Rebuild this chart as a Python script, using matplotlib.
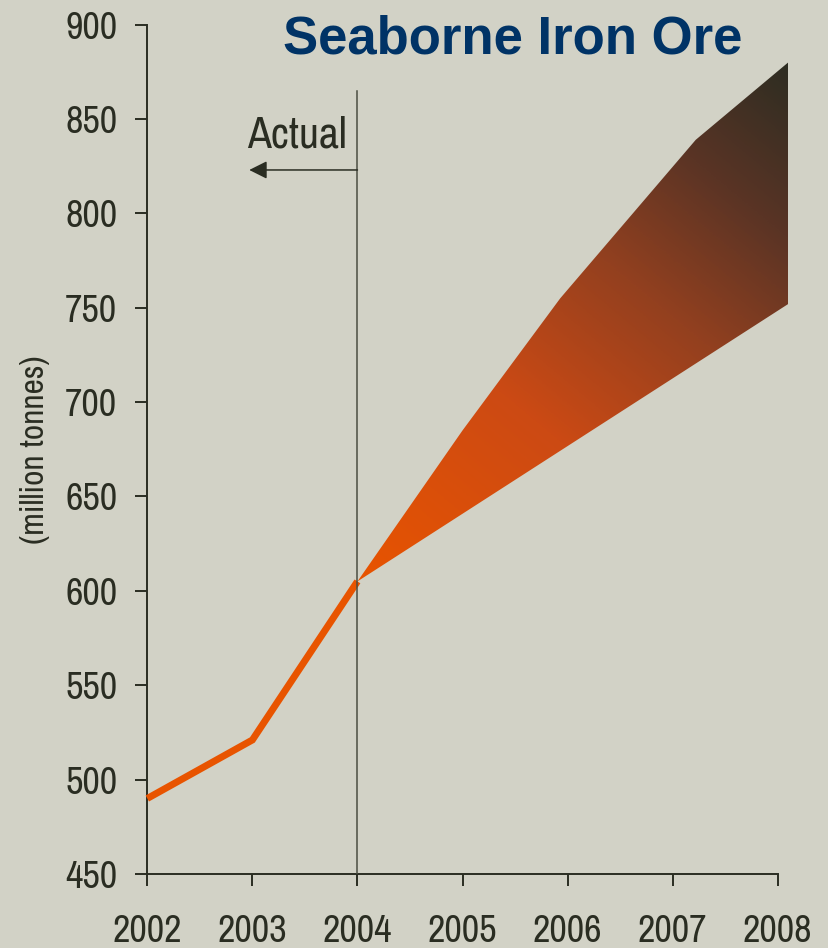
import numpy as np
import matplotlib
matplotlib.use("Agg")
import matplotlib.pyplot as plt
from matplotlib.colors import LinearSegmentedColormap
from matplotlib.patches import Polygon

# Seaborne iron ore trade, million tonnes
actual_years = [2002, 2003, 2004]
actual_values = [490, 521, 605]

# Forecast range: upper and lower bounds
high_years = [2004, 2005, 2005.93, 2007.22, 2008.1]
high_values = [605, 685, 755, 839, 880]
low_years = [2004, 2008.1]
low_values = [605, 752]

x_ticks = [2002, 2003, 2004, 2005, 2006, 2007, 2008]
y_ticks = [450, 500, 550, 600, 650, 700, 750, 800, 850, 900]

BG = "#D2D2C6"
INK = "#2A2D22"
ORANGE = "#E85400"
NAVY = "#003366"
NARROW = ["Archivo Narrow", "Roboto Condensed", "DejaVu Sans"]

plt.rcParams["font.family"] = NARROW

fig = plt.figure(figsize=(8.29, 9.48), dpi=100, facecolor=BG)
ax = fig.add_axes([0.1777, 0.0781, 0.7858, 0.8959])
ax.set_facecolor(BG)

# Forecast fan filled with a diagonal orange-to-dark gradient
fan_cmap = LinearSegmentedColormap.from_list(
    "fan", [(0.0, "#E85400"), (0.35, "#CC4A14"), (0.6, "#93401F"),
            (0.8, "#5A3425"), (1.0, "#2D2D22")])
gx = np.linspace(high_years[0], high_years[-1], 400)
gy = np.linspace(low_values[0], high_values[-1], 400)
GX, GY = np.meshgrid(gx, gy)
# scale to display-like units so the gradient runs corner to corner
sx, sy = 105.07, 1.887
dx = (gx[-1] - gx[0]) * sx
dy = (gy[-1] - gy[0]) * sy
norm = np.hypot(dx, dy)
ux, uy = dx / norm, dy / norm
T = ((GX - gx[0]) * sx * ux + (GY - gy[0]) * sy * uy) / (dx * ux + dy * uy)
im = ax.imshow(T, extent=[gx[0], gx[-1], gy[0], gy[-1]], origin="lower",
               cmap=fan_cmap, vmin=0, vmax=1, aspect="auto",
               interpolation="bilinear", zorder=2)
verts = list(zip(high_years, high_values)) + list(zip(low_years[::-1], low_values[::-1]))
fan = Polygon(verts, closed=True, facecolor="none", edgecolor="none",
              transform=ax.transData)
ax.add_patch(fan)
im.set_clip_path(fan)

# Actual line
ax.plot(actual_years, actual_values, color=ORANGE, lw=5,
        solid_joinstyle="miter", solid_capstyle="butt", zorder=3, clip_on=False)

# Divider between actual and forecast
ax.plot([2004, 2004], [450, 865], color="#4B4E42", lw=1.1, zorder=4)
ax.annotate("", xy=(2002.97, 823), xytext=(2004, 823),
            arrowprops=dict(arrowstyle="-|>,head_length=0.9,head_width=0.45",
                            mutation_scale=12, color=INK, lw=1.1,
                            shrinkA=0, shrinkB=0), zorder=4)
ax.text(2003.90, 834.7, "Actual", ha="right", va="baseline",
        fontsize=31.5, color=INK)

ax.set_xlim(2002, 2008.2)
ax.set_ylim(450, 900)
ax.set_xticks(x_ticks)
ax.set_yticks(y_ticks)
for s in ("top", "right"):
    ax.spines[s].set_visible(False)
for s in ("left", "bottom"):
    ax.spines[s].set_color(INK)
    ax.spines[s].set_linewidth(1.4)
ax.spines["left"].set_bounds(450, 900)
ax.spines["bottom"].set_bounds(2002, 2008)
ax.tick_params(axis="both", direction="out", length=8.6, width=1.4,
               color=INK, labelsize=27.5, labelcolor=INK)
ax.tick_params(axis="y", pad=13)
ax.tick_params(axis="x", pad=20)

fig.text(513 / 829, 1 - 53 / 948, "Seaborne Iron Ore", ha="center",
         va="baseline", fontsize=38, fontweight="bold", color=NAVY,
         family=["Liberation Sans", "DejaVu Sans"])
fig.text(35 / 829, 1 - 450 / 948, "(million tonnes)", rotation=90,
         ha="center", va="center", fontsize=24, color=INK)

fig.savefig("out.png", dpi=100, facecolor=BG)
